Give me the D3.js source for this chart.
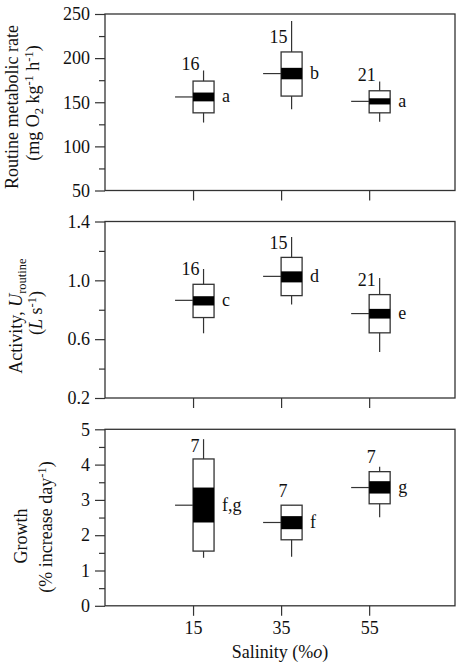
<!DOCTYPE html>
<html>
<head>
<meta charset="utf-8">
<script src="https://cdn.jsdelivr.net/npm/d3@7"></script>
<style>
  body { margin: 0; background: #fff; }
  svg, svg text { font-family: "Liberation Serif", "Times New Roman", Times, serif; fill: #111; }
</style>
</head>
<body>
<svg width="462" height="668" font-family="Liberation Serif"></svg>
<script>
const salinity = [15, 35, 55];
const xTickLabels = ["15", "35", "55"];

// whisker low, box low, band low, band high, box high, whisker high, mean
const metabolicRate = [
    {wLo: 127, q1: 138, bLo: 151, bHi: 161, q3: 174, wHi: 186, mean: 156},
    {wLo: 142, q1: 157, bLo: 176, bHi: 189, q3: 207, wHi: 242, mean: 182.5},
    {wLo: 128, q1: 138, bLo: 147.5, bHi: 154.5, q3: 163, wHi: 173.5, mean: 151}
];
const activity = [
    {wLo: 0.64, q1: 0.747, bLo: 0.829, bHi: 0.892, q3: 0.973, wHi: 1.077, mean: 0.864},
    {wLo: 0.835, q1: 0.896, bLo: 0.986, bHi: 1.061, q3: 1.156, wHi: 1.294, mean: 1.027},
    {wLo: 0.512, q1: 0.643, bLo: 0.74, bHi: 0.806, q3: 0.903, wHi: 1.016, mean: 0.774}
];
const growth = [
    {wLo: 1.36, q1: 1.55, bLo: 2.36, bHi: 3.35, q3: 4.16, wHi: 4.72, mean: 2.85},
    {wLo: 1.39, q1: 1.87, bLo: 2.17, bHi: 2.54, q3: 2.85, wHi: 2.85, mean: 2.36},
    {wLo: 2.51, q1: 2.89, bLo: 3.18, bHi: 3.53, q3: 3.80, wHi: 3.94, mean: 3.35}
];

const rateN = [16, 15, 21];
const activityN = [16, 15, 21];
const growthN = [7, 7, 7];

const rateLetters = ["a", "b", "a"];
const activityLetters = ["c", "d", "e"];
const growthLetters = ["f,g", "f", "g"];

// where the sample sizes sit, in data units
const rateNAt = [186, 217, 174];
const activityNAt = [1.035, 1.215, 0.96];
const growthNAt = [4.37, 3.08, 4.05];

const rateTicks = [50, 100, 150, 200, 250];
const rateMinor = [75, 125, 175, 225];
const activityTicks = [0.2, 0.6, 1.0, 1.4];
const activityMinor = [0.4, 0.8, 1.2];
const growthTicks = [0, 1, 2, 3, 4, 5];
const growthMinor = [0.5, 1.5, 2.5, 3.5, 4.5];

const svg = d3.select("svg");
const left = 105, right = 455, panelH = 176.5, boxW = 21;
const ink = "#333";
const serif = "Liberation Serif";
const fs = "18px";

const x = d3.scaleLinear().domain([-5, 74.5]).range([left, right]);

const panels = [
    {top: 14, domain: [50, 250], stats: metabolicRate, n: rateN, nAt: rateNAt, letters: rateLetters,
     ticks: rateTicks, minor: rateMinor, fmt: d3.format("d"), xLabels: false},
    {top: 221.5, domain: [0.2, 1.4], stats: activity, n: activityN, nAt: activityNAt, letters: activityLetters,
     ticks: activityTicks, minor: activityMinor, fmt: d3.format(".1f"), xLabels: false},
    {top: 429.3, domain: [0, 5], stats: growth, n: growthN, nAt: growthNAt, letters: growthLetters,
     ticks: growthTicks, minor: growthMinor, fmt: d3.format("d"), xLabels: true}
];

panels.forEach(p => {
    const bottom = p.top + panelH;
    const y = d3.scaleLinear().domain(p.domain).range([bottom, p.top]);
    const g = svg.append("g");

    // minor ticks
    g.append("g")
        .attr("transform", `translate(${left},0)`)
        .call(d3.axisLeft(y).tickValues(p.minor).tickSize(6).tickFormat(""))
        .call(a => a.select(".domain").remove());

    const yAxis = g.append("g")
        .attr("transform", `translate(${left},0)`)
        .call(d3.axisLeft(y).tickValues(p.ticks).tickSize(10).tickPadding(5).tickFormat(p.fmt));
    yAxis.select(".domain").remove();

    const xAxis = g.append("g")
        .attr("transform", `translate(0,${bottom})`)
        .call(d3.axisBottom(x).tickValues(salinity).tickSize(10).tickPadding(5)
            .tickFormat((d, i) => p.xLabels ? xTickLabels[i] : ""));
    xAxis.select(".domain").remove();

    g.selectAll(".tick text")
        .attr("font-family", serif).style("font-family", serif)
        .style("font-size", fs).attr("fill", "#111");
    g.selectAll(".tick line").attr("stroke", ink).attr("stroke-width", 1.2);

    g.append("rect")
        .attr("x", left).attr("y", p.top)
        .attr("width", right - left).attr("height", panelH)
        .attr("fill", "none").attr("stroke", ink).attr("stroke-width", 1.3);

    const boxes = g.selectAll("g.box")
        .data(p.stats)
        .join("g")
        .attr("class", "box");

    boxes.each(function (d, i) {
        const b = d3.select(this);
        const x0 = x(salinity[i]);
        const xm = x0 + boxW / 2;

        b.append("line")
            .attr("x1", xm).attr("x2", xm)
            .attr("y1", y(d.wLo)).attr("y2", y(d.wHi))
            .attr("stroke", ink).attr("stroke-width", 1.2);

        b.append("line")
            .attr("x1", x0 - 18).attr("x2", x0)
            .attr("y1", y(d.mean)).attr("y2", y(d.mean))
            .attr("stroke", ink).attr("stroke-width", 1.2);

        b.append("rect")
            .attr("x", x0).attr("y", y(d.q3))
            .attr("width", boxW).attr("height", y(d.q1) - y(d.q3))
            .attr("fill", "#fff").attr("stroke", ink).attr("stroke-width", 1.3);

        b.append("rect")
            .attr("x", x0).attr("y", y(d.bHi))
            .attr("width", boxW).attr("height", y(d.bLo) - y(d.bHi))
            .attr("fill", "#000");

        b.append("text")
            .attr("x", x0 + boxW + 8)
            .attr("y", y(d.mean))
            .attr("dy", "0.3em")
            .style("font-family", serif)
            .style("font-size", fs)
            .text(p.letters[i]);

        b.append("text")
            .attr("x", xm - 4)
            .attr("y", y(p.nAt[i]))
            .attr("text-anchor", "end")
            .style("font-family", serif)
            .style("font-size", fs)
            .text(p.n[i]);
    });
});

// axis titles
function yTitle(cx, cy, parts) {
    const t = svg.append("text")
        .attr("transform", `translate(${cx},${cy}) rotate(-90)`)
        .attr("text-anchor", "middle")
        .style("font-family", serif)
        .style("font-size", fs);
    let shift = 0;
    parts.forEach(([str, kind]) => {
        const s = t.append("tspan").text(str);
        let target = 0;
        if (kind === "sup") target = -6;
        if (kind === "sub") target = 4;
        if (kind === "sup" || kind === "sub") s.style("font-size", "12.5px");
        if (kind === "it") s.style("font-style", "italic");
        if (target !== shift) { s.attr("dy", target - shift); shift = target; }
    });
}

yTitle(18, 107, [["Routine metabolic rate"]]);
yTitle(38.5, 103, [["(mg O"], ["2", "sub"], [" kg"], ["-1", "sup"], [" h"], ["-1", "sup"], [")"]]);
yTitle(21.5, 316, [["Activity, "], ["U", "it"], ["routine", "sub"]]);
yTitle(41.5, 313, [["("], ["L", "it"], [" s"], ["-1", "sup"], [")"]]);
yTitle(26.5, 536, [["Growth"]]);
yTitle(51.5, 527, [["(% increase day"], ["-1", "sup"], [")"]]);

const xt = svg.append("text")
    .attr("x", (left + right) / 2)
    .attr("y", 658)
    .attr("text-anchor", "middle")
    .style("font-family", serif)
    .style("font-size", fs);
xt.append("tspan").text("Salinity (%");
xt.append("tspan").style("font-style", "italic").text("o");
xt.append("tspan").text(")");
</script>
</body>
</html>
